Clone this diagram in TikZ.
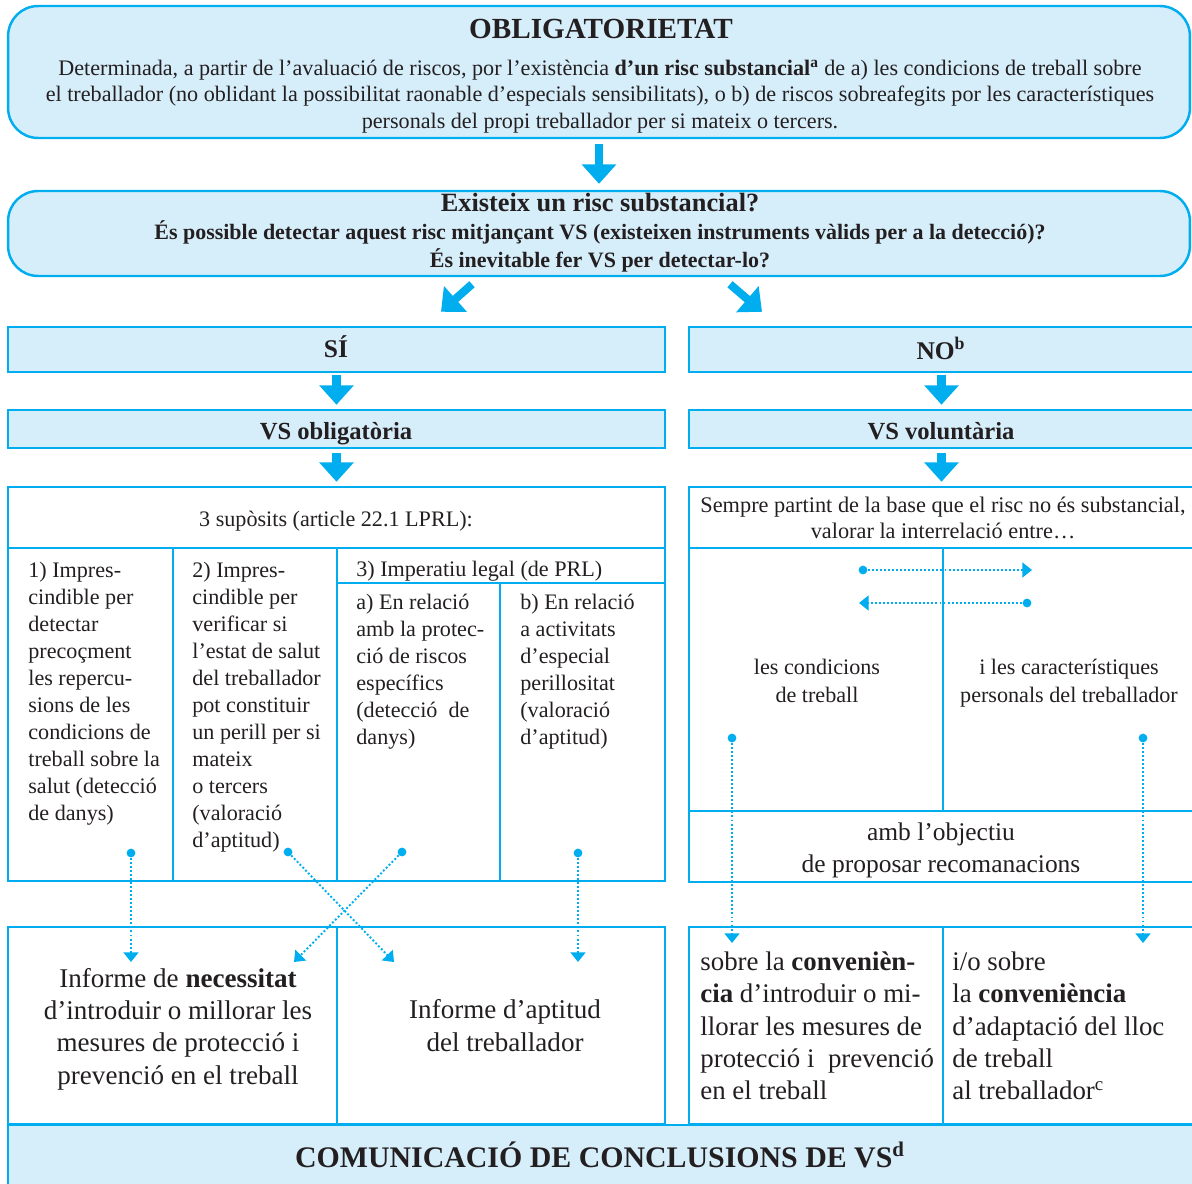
\documentclass[tikz,border=0pt]{standalone}
\usepackage{fontspec}
\setmainfont{Liberation Serif}
\usetikzlibrary{arrows.meta}

\definecolor{vsblue}{RGB}{0,174,239}
\definecolor{vsfill}{RGB}{214,237,250}
\definecolor{vsink}{RGB}{35,31,32}

\newcommand{\fbody}{\fontsize{12.6}{15}\selectfont}
\newcommand{\fcell}{\fontsize{12.6}{15.4}\selectfont}
\newcommand{\fbig}{\fontsize{15.4}{18.3}\selectfont}

\tikzset{
  vsframe/.style={draw=vsblue, line width=1.4pt},
  roundbox/.style={vsframe, fill=vsfill, rounded corners=0.6cm, inner sep=0pt},
  headbox/.style={vsframe, fill=vsfill, inner sep=0pt},
  tablebox/.style={vsframe, inner sep=0pt},
  txt/.style={text=vsink, inner sep=0pt},
  bigarrow/.style={vsblue, line width=4.6pt, -{Triangle[width=19pt,length=11pt]}},
  dotarrow/.style={vsblue, line width=1.1pt, dash pattern=on 1.1pt off 1.2pt, -{Triangle[width=8.5pt,length=5.5pt]}},
  dotend/.style={circle, fill=vsblue, inner sep=0pt, minimum size=5pt},
}

\begin{document}
\begin{tikzpicture}[x=0.02cm, y=-0.02cm]
    \useasboundingbox (0,0) rectangle (1192,1183);

    \node[roundbox, minimum width=23.64cm, minimum height=2.64cm] (oblig) at (599,72) {};
    \node[roundbox, minimum width=23.64cm, minimum height=1.7cm] (risc) at (599,233.5) {};
    \node[headbox, minimum width=13.14cm, minimum height=0.9cm] (si) at (336.5,349.5) {};
    \node[headbox, minimum width=10.1cm, minimum height=0.9cm] (no) at (941.5,349.5) {};
    \node[headbox, minimum width=13.14cm, minimum height=0.76cm] (vsobl) at (336.5,429) {};
    \node[headbox, minimum width=10.1cm, minimum height=0.76cm] (vsvol) at (941.5,429) {};
    \node[tablebox, minimum width=13.14cm, minimum height=7.88cm] (supo) at (336.5,684) {};
    \node[tablebox, minimum width=10.1cm, minimum height=7.9cm] (valor) at (941.5,684.5) {};
    \node[tablebox, minimum width=13.14cm, minimum height=3.94cm] (infnec) at (336.5,1025.5) {};
    \node[tablebox, minimum width=10.1cm, minimum height=3.94cm] (infconv) at (941.5,1025.5) {};
    \node[headbox, minimum width=23.72cm, minimum height=1.3cm] (comu) at (601,1157.5) {};

    \draw[vsframe] (8,548) -- (665,548);
    \draw[vsframe] (173,548) -- (173,881);
    \draw[vsframe] (337,548) -- (337,881);
    \draw[vsframe] (337,583) -- (665,583);
    \draw[vsframe] (500,583) -- (500,881);
    \draw[vsframe] (689,548) -- (1194,548);
    \draw[vsframe] (943,548) -- (943,811);
    \draw[vsframe] (689,811) -- (1194,811);
    \draw[vsframe] (337,927) -- (337,1124);
    \draw[vsframe] (943,927) -- (943,1124);

    \draw[bigarrow, shorten <=2.8pt, shorten >=3.4pt] (oblig.south) -- (risc.north);
    \draw[bigarrow] ([shift={(-127,7)}]risc.south) -- ([shift={(104.5,-14)}]si.north);
    \draw[bigarrow] ([shift={(131,7)}]risc.south) -- ([shift={(-179.5,-14)}]no.north);
    \draw[bigarrow, shorten <=1pt, shorten >=2.3pt] (si) -- (vsobl);
    \draw[bigarrow, shorten <=1pt, shorten >=2.3pt] (no) -- (vsvol);
    \draw[bigarrow, shorten <=2.3pt, shorten >=2.3pt] (vsobl) -- (supo);
    \draw[bigarrow, shorten <=2.3pt, shorten >=2.3pt] (vsvol) -- (valor);

    \node[txt, anchor=base, font=\bfseries\fontsize{16.6}{19}\selectfont] (tobl) at (601,38) {OBLIGATORIETAT};
    \node[txt, anchor=base, align=center, font=\fbody] (tdet) at (600,128)
      {Determinada, a partir de l’avaluació de riscos, por l’existència \textbf{d’un risc substancial}\textsuperscript{\bfseries a} de a) les condicions de treball sobre\\
       el treballador (no oblidant la possibilitat raonable d’especials sensibilitats), o b) de riscos sobreafegits por les característiques\\
       personals del propi treballador per si mateix o tercers.};

    \node[txt, anchor=base, font=\bfseries\fontsize{15}{17}\selectfont] (triq) at (600,211) {Existeix un risc substancial?};
    \node[txt, anchor=base, font=\bfseries\fontsize{12.5}{14}\selectfont] (tdetc) at (600,239) {És possible detectar aquest risc mitjançant VS (existeixen instruments vàlids per a la detecció)?};
    \node[txt, anchor=base, font=\bfseries\fontsize{12.5}{14}\selectfont] (tinev) at (600,267) {És inevitable fer VS per detectar-lo?};

    \node[txt, anchor=base, font=\bfseries\fontsize{14.5}{17}\selectfont] (tsi) at (336,357) {SÍ};
    \node[txt, anchor=base, font=\bfseries\fontsize{14.5}{17}\selectfont] (tno) at (941,359) {NO\textsuperscript{b}};
    \node[txt, anchor=base, font=\bfseries\fontsize{14}{17}\selectfont] (tobg) at (336,439) {VS obligatòria};
    \node[txt, anchor=base, font=\bfseries\fontsize{14}{17}\selectfont] (tvol) at (941,439) {VS voluntària};

    \node[txt, anchor=base, font=\fcell] (tsup) at (336,526) {3 supòsits (article 22.1 LPRL):};
    \node[txt, anchor=base west, align=left, font=\fcell] (tc1) at (28,820.5)
      {1) Impres-\\cindible per\\detectar\\precoçment\\les repercu-\\sions de les\\condicions de\\treball sobre la\\salut (detecció\\de danys)};
    \node[txt, anchor=base west, align=left, font=\fcell] (tc2) at (192,847.6)
      {2) Impres-\\cindible per\\verificar si\\l’estat de salut\\del treballador\\pot constituir\\un perill per si\\mateix\\o tercers\\(valoració\\d’aptitud)};
    \node[txt, anchor=base west, font=\fcell] (tc3) at (356,576) {3) Imperatiu legal (de PRL)};
    \node[txt, anchor=base west, align=left, font=\fcell] (tc3a) at (356,744.8)
      {a) En relació\\amb la protec-\\ció de riscos\\específics\\(detecció~ de\\danys)};
    \node[txt, anchor=base west, align=left, font=\fcell] (tc3b) at (520,744.8)
      {b) En relació\\a activitats\\d’especial\\perillositat\\(valoració\\d’aptitud)};

    \node[txt, anchor=base, align=center, font=\fontsize{12.7}{14.7}\selectfont] (tsem) at (943,538)
      {Sempre partint de la base que el risc no és substancial,\\valorar la interrelació entre…};
    \node[txt, anchor=base, align=center, font=\fcell] (tcond) at (817,702) {les condicions\\de treball};
    \node[txt, anchor=base, align=center, font=\fcell] (tcar) at (1069,702) {i les característiques\\personals del treballador};
    \node[txt, anchor=base, align=center, font=\fontsize{14.5}{18.1}\selectfont] (tobj) at (941,872) {amb l’objectiu\\de proposar recomanacions};

    \node[txt, anchor=base, align=center, font=\fbig] (tnec) at (178,1084)
      {Informe de \textbf{necessitat}\\d’introduir o millorar les\\mesures de protecció i\\prevenció en el treball};
    \node[txt, anchor=base, align=center, font=\fbig] (tapt) at (505,1051) {Informe d’aptitud\\del treballador};
    \node[txt, anchor=base west, align=left, font=\fontsize{15.3}{18.4}\selectfont] (tcon1) at (700,1099.8)
      {sobre la \textbf{convenièn-}\\\textbf{cia} d’introduir o mi-\\llorar les mesures de\\protecció i~ prevenció\\en el treball};
    \node[txt, anchor=base west, align=left, font=\fontsize{15.3}{18.4}\selectfont] (tcon2) at (952,1099.8)
      {i/o sobre\\la \textbf{conveniència}\\d’adaptació del lloc\\de treball\\al treballador\textsuperscript{c}};

    \node[txt, anchor=base, font=\bfseries\fontsize{17}{20}\selectfont] (tcom) at (600,1167) {COMUNICACIÓ DE CONCLUSIONS DE VS\textsuperscript{d}};

    \node[dotend] (d1) at (131,853) {};
    \node[dotend] (d2) at (288,852) {};
    \node[dotend] (d3) at (402,852) {};
    \node[dotend] (d4) at (578,853) {};
    \node[dotend] (d5) at (863,570) {};
    \node[dotend] (d6) at (1027,603) {};
    \node[dotend] (d7) at (732,738) {};
    \node[dotend] (d8) at (1143,738) {};
    \coordinate (e1) at (131,962);
    \coordinate (e2) at (394,962);
    \coordinate (e3) at (294,962);
    \coordinate (e4) at (578,962);
    \coordinate (e5) at (1032,570);
    \coordinate (e6) at (859,603);
    \coordinate (e7) at (732,943);
    \coordinate (e8) at (1143,943);
    \draw[dotarrow] (d1) -- (e1);
    \draw[dotarrow] (d2) -- (e2);
    \draw[dotarrow] (d3) -- (e3);
    \draw[dotarrow] (d4) -- (e4);
    \draw[dotarrow] (d5) -- (e5);
    \draw[dotarrow] (d6) -- (e6);
    \draw[dotarrow] (d7) -- (e7);
    \draw[dotarrow] (d8) -- (e8);
\end{tikzpicture}
\end{document}
